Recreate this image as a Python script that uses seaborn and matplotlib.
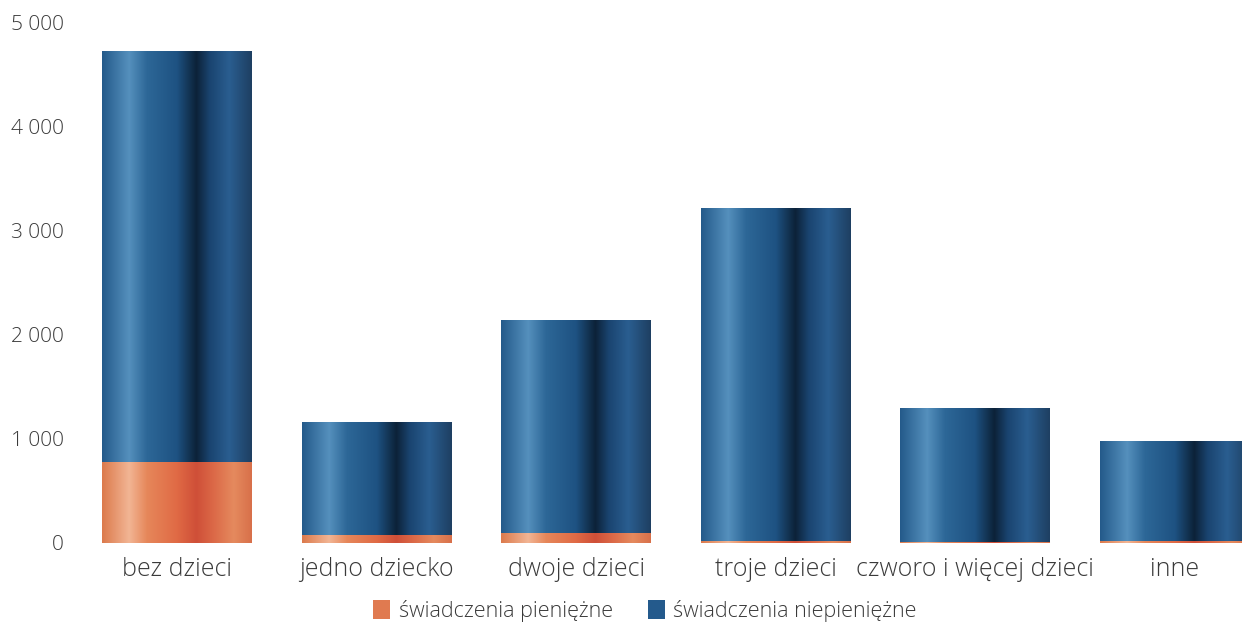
import numpy as np
import pandas as pd
import seaborn as sb
import matplotlib
matplotlib.use('Agg')
import matplotlib.pyplot as plt
from matplotlib.colors import LinearSegmentedColormap
from matplotlib.patches import Patch

# data
categories = ["bez dzieci", "jedno dziecko", "dwoje dzieci", "troje dzieci",
              "czworo i więcej dzieci", "inne"]
pieniezne = [775, 75, 95, 20, 8, 20]
niepieniezne = [3947, 1086, 2045, 3195, 1288, 959]
series_names = ["świadczenia pieniężne", "świadczenia niepieniężne"]
y_ticks = [0, 1000, 2000, 3000, 4000, 5000]

sb.set_style("white")
plt.rcParams['font.family'] = ['Open Sans', 'DejaVu Sans']
plt.rcParams['font.weight'] = 'light'

df = pd.DataFrame({"kat": categories, "pien": pieniezne, "niepien": niepieniezne})
df["razem"] = df["pien"] + df["niepien"]

blue_cm = LinearSegmentedColormap.from_list("cyl_blue", [
    (0.00, "#245a8a"), (0.18, "#5590bd"), (0.30, "#2d6797"), (0.50, "#1e5282"),
    (0.63, "#0c2238"), (0.72, "#1a4470"), (0.85, "#2a5e90"), (1.00, "#1e3f62")])
orange_cm = LinearSegmentedColormap.from_list("cyl_orange", [
    (0.00, "#dc7a4c"), (0.18, "#f2b594"), (0.30, "#e6875a"), (0.50, "#e06a45"),
    (0.63, "#cf4f38"), (0.75, "#dc6a48"), (0.88, "#e58a5e"), (1.00, "#d8704a")])

fig = plt.figure(figsize=(12.42, 6.26), dpi=100)
ax = fig.add_axes([77.5 / 1242, 83 / 626, 1 - 77.5 / 1242, 521 / 626])

sb.barplot(data=df, x="kat", y="razem", color="#1d4f80", width=0.75,
           saturation=1, ax=ax)
n_blue = len(ax.patches)
sb.barplot(data=df, x="kat", y="pien", color="#e06a45", width=0.75,
           saturation=1, ax=ax)

# cylinder-like shading clipped to each bar
row = np.linspace(0, 1, 256).reshape(1, -1)
for i, p in enumerate(ax.patches):
    cm = blue_cm if i < n_blue else orange_cm
    x, y = p.get_x(), p.get_y()
    w, h = p.get_width(), p.get_height()
    if h <= 0:
        continue
    im = ax.imshow(row, cmap=cm, extent=[x, x + w, y, y + h], aspect='auto',
                   zorder=p.get_zorder() + 0.1 + (0.5 if i >= n_blue else 0))
    im.set_clip_path(p)

ax.set_xlim(-0.5, -0.5 + (1242 - 77.5) / 199.5)
ax.set_ylim(0, 5000)
ax.set_yticks(y_ticks)
ax.set_yticklabels([f"{v:,}".replace(",", " ") for v in y_ticks])
ax.set_xlabel("")
ax.set_ylabel("")
ax.tick_params(axis='y', length=0, pad=10, labelsize=15, labelcolor="#3a3a3a")
ax.tick_params(axis='x', length=0, pad=10, labelsize=18, labelcolor="#3a3a3a")
for s in ax.spines.values():
    s.set_visible(False)

handles = [Patch(facecolor="#e07a50", edgecolor="none"),
           Patch(facecolor="#245a8c", edgecolor="none")]
fig.legend(handles, series_names, loc="center", bbox_to_anchor=(645 / 1242, 1 - 611 / 626),
           ncol=2, frameon=False, fontsize=15.5, handlelength=0.8, handleheight=1.0,
           handletextpad=0.4, columnspacing=1.6, labelcolor="#3a3a3a")

fig.savefig("out.png", dpi=100)
